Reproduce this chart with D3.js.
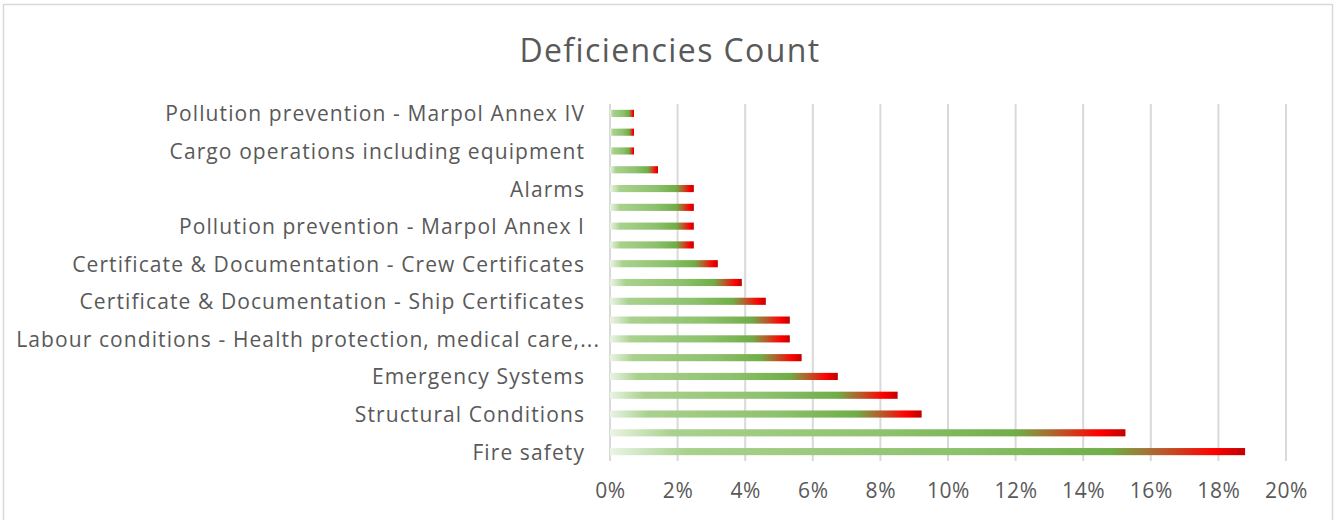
<!DOCTYPE html>
<html>
<head>
<meta charset="utf-8">
<script src="https://cdn.jsdelivr.net/npm/d3@7"></script>
<style>
  body { margin: 0; background: #fff; }
  text { font-family: "Open Sans", "Noto Sans", sans-serif; fill: #595959; }
</style>
</head>
<body>
<div id="chart-area"></div>
<script>
// bottom to top; only every other category is labelled on the axis
var categories = [
    "Fire safety", "",
    "Structural Conditions", "",
    "Emergency Systems", "",
    "Labour conditions - Health protection, medical care,...", "",
    "Certificate & Documentation - Ship Certificates", "",
    "Certificate & Documentation - Crew Certificates", "",
    "Pollution prevention - Marpol Annex I", "",
    "Alarms", "",
    "Cargo operations including equipment", "",
    "Pollution prevention - Marpol Annex IV"
];
var shares = [18.79, 15.25, 9.22, 8.51, 6.74, 5.67, 5.32, 5.32, 4.61, 3.90,
              3.19, 2.48, 2.48, 2.48, 2.48, 1.42, 0.71, 0.71, 0.71];
var xTicks = [0, 2, 4, 6, 8, 10, 12, 14, 16, 18, 20];
var title = "Deficiencies Count";

var width = 1340;
var height = 520;
var margin = {top: 104, right: 54, bottom: 59, left: 610};
var innerW = 676;
var innerH = height - margin.top - margin.bottom;

var svg = d3.select("#chart-area").append("svg")
    .attr("width", width)
    .attr("height", height);

// chart frame
svg.append("rect")
    .attr("x", 3.5).attr("y", 4.5)
    .attr("width", 1329).attr("height", 520)
    .attr("fill", "none")
    .attr("stroke", "#d9d9d9")
    .attr("stroke-width", 1.5);

var grad = svg.append("defs").append("linearGradient")
    .attr("id", "barFill")
    .attr("x1", "0").attr("x2", "1").attr("y1", "0").attr("y2", "0");
[[0, "#eaf4e4"], [0.12, "#a9d18e"], [0.55, "#8cc16c"], [0.79, "#70ad47"],
 [0.87, "#b85a2a"], [0.95, "#ff0000"], [1, "#c00000"]].forEach((s) => {
    grad.append("stop").attr("offset", s[0]).attr("stop-color", s[1]);
});

var g = svg.append("g")
    .attr("transform", "translate(" + margin.left + ", " + margin.top + ")");

var x = d3.scaleLinear()
    .domain([0, 20])
    .range([0, innerW]);

var y = d3.scaleBand()
    .domain(d3.range(categories.length))
    .range([innerH, 0])
    .paddingInner(0.62)
    .paddingOuter(0.31);

// gridlines
g.selectAll(".grid")
    .data(xTicks)
    .enter().append("line")
        .attr("class", "grid")
        .attr("x1", (d) => { return x(d); })
        .attr("x2", (d) => { return x(d); })
        .attr("y1", 0)
        .attr("y2", innerH)
        .attr("stroke", "#d9d9d9")
        .attr("stroke-width", 2);

g.selectAll(".bar")
    .data(shares)
    .enter().append("rect")
        .attr("class", "bar")
        .attr("x", 0)
        .attr("y", (d, i) => { return y(i); })
        .attr("width", (d) => { return x(d); })
        .attr("height", y.bandwidth())
        .attr("fill", "url(#barFill)");

var yAxis = g.append("g")
    .call(d3.axisLeft(y).tickSize(0).tickPadding(25)
        .tickFormat((i) => { return categories[i]; }));
yAxis.select(".domain").remove();
yAxis.selectAll("text")
    .attr("font-size", "21px")
    .attr("letter-spacing", "1.1px")
    .attr("fill", "#595959")
    .attr("dy", "0.38em")
    // the truncated label runs a little past the others, as in Excel
    .attr("dx", (i) => { return categories[i].endsWith("...") ? 15 : 0; });

var xAxis = g.append("g")
    .attr("transform", "translate(0, " + innerH + ")")
    .call(d3.axisBottom(x).tickValues(xTicks).tickSize(0).tickPadding(22)
        .tickFormat((d) => { return d + "%"; }));
xAxis.select(".domain").remove();
xAxis.selectAll("text")
    .attr("font-size", "21px")
    .attr("letter-spacing", "0.6px")
    .attr("fill", "#595959");

svg.append("text")
    .attr("x", 670)
    .attr("y", 62)
    .attr("text-anchor", "middle")
    .attr("font-size", "32px")
    .attr("letter-spacing", "1.4px")
    .text(title);
</script>
</body>
</html>
